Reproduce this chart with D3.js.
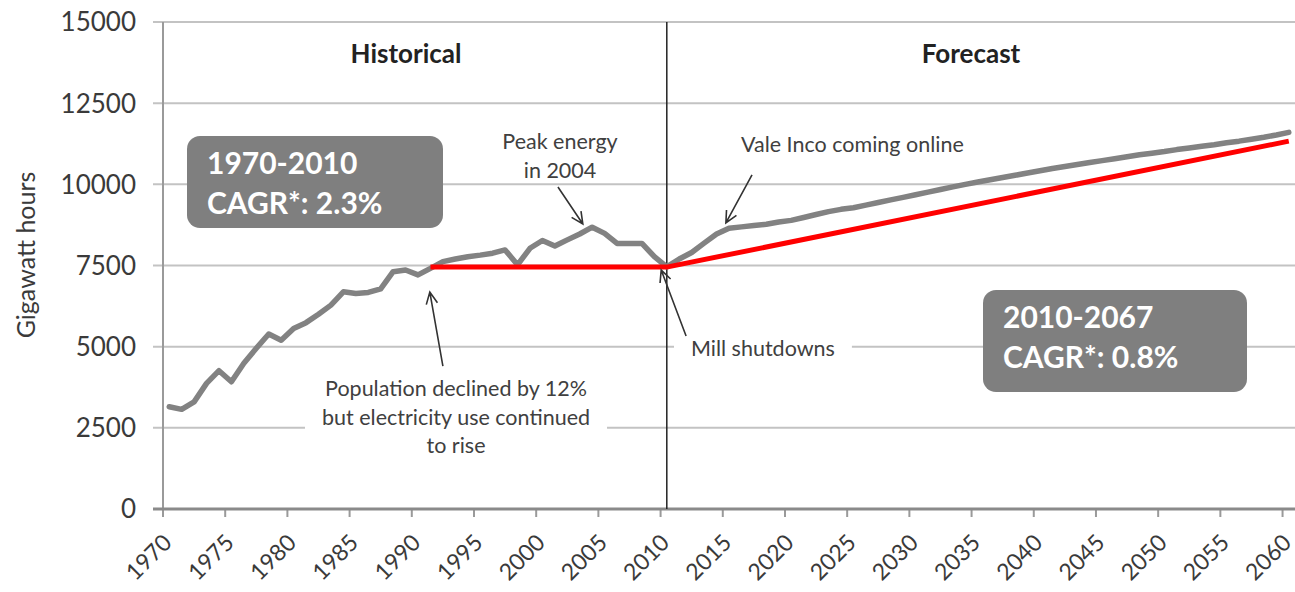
<!DOCTYPE html>
<html>
<head>
<meta charset="utf-8">
<script src="https://cdn.jsdelivr.net/npm/d3@7/dist/d3.min.js"></script>
<style>
  body { margin: 0; background: #fff; }
  svg { display: block; font-family: Lato, "Open Sans", sans-serif; }
</style>
</head>
<body>
<svg id="chart" width="1295" height="592"></svg>
<script>
// categories: one per year, 1970 - 2060
var years = d3.range(1970, 2061);
// gigawatt hours, 1970 - 2010
var historical = [3150, 3070, 3300, 3870, 4260, 3920, 4490, 4950, 5390, 5200,
                  5560, 5740, 6000, 6280, 6690, 6640, 6670, 6780, 7310, 7360,
                  7210, 7410, 7620, 7700, 7770, 7820, 7880, 7980, 7520, 8030,
                  8270, 8100, 8290, 8470, 8680, 8490, 8180, 8180, 8180, 7770,
                  7460];
// gigawatt hours, 2011 - 2060
var forecast = [7700, 7900, 8190, 8470, 8650, 8690, 8730, 8770, 8840, 8890,
                8980, 9070, 9160, 9230, 9280, 9360, 9440, 9520, 9600, 9680,
                9760, 9840, 9920, 10000, 10070, 10140, 10210, 10280, 10350, 10420,
                10490, 10550, 10610, 10670, 10730, 10790, 10850, 10910, 10960, 11010,
                11070, 11120, 11170, 11220, 11280, 11330, 11390, 11450, 11520, 11600];
// red CAGR reference line
var cagrYears = [1991, 2010, 2060];
var cagrValues = [7450, 7450, 11330];
var yTicks = [0, 2500, 5000, 7500, 10000, 12500, 15000];
var xTickYears = d3.range(1970, 2061, 5);

var energy = years.map(function (yr, i) {
  return { year: yr, value: i < historical.length ? historical[i] : forecast[i - historical.length] };
});
var cagr = cagrYears.map(function (yr, i) { return { year: yr, value: cagrValues[i] }; });

var plotLeft = 163, plotRight = 1295, plotTop = 22, plotBottom = 509;
var svg = d3.select("#chart");

var x = d3.scaleBand().domain(years).range([plotLeft, plotRight]);
var xc = function (yr) { return x(yr) + x.bandwidth() / 2; };
// continuous year position, used for the annotation arrows
var xf = d3.scaleLinear().domain([1970, 2061]).range([plotLeft, plotRight]);
var y = d3.scaleLinear().domain([0, 15000]).range([plotBottom, plotTop]);

// gridlines
svg.append("g").selectAll("line")
  .data(yTicks.filter(function (v) { return v > 0; }))
  .join("line")
  .attr("x1", plotLeft - 10).attr("x2", plotRight)
  .attr("y1", function (d) { return y(d); }).attr("y2", function (d) { return y(d); })
  .attr("stroke", "#c3c3c3").attr("stroke-width", 2);

// y axis line
svg.append("line")
  .attr("x1", plotLeft).attr("x2", plotLeft).attr("y1", y(15000)).attr("y2", y(0))
  .attr("stroke", "#9a9a9a").attr("stroke-width", 2);

// y tick labels
svg.append("g").selectAll("text")
  .data(yTicks)
  .join("text")
  .attr("x", 136).attr("y", function (d) { return y(d); })
  .attr("dy", "0.36em")
  .attr("text-anchor", "end")
  .style("font-size", "26px").style("fill", "#3a3a3a")
  .text(function (d) { return d; });

svg.append("text")
  .attr("transform", "translate(35,255) rotate(-90)")
  .attr("text-anchor", "middle")
  .style("font-size", "25px").style("fill", "#3a3a3a")
  .text("Gigawatt hours");

// x axis
svg.append("g").selectAll("line")
  .data(xTickYears)
  .join("line")
  .attr("x1", function (d) { return x(d); }).attr("x2", function (d) { return x(d); })
  .attr("y1", plotBottom).attr("y2", plotBottom + 8)
  .attr("stroke", "#9a9a9a").attr("stroke-width", 2);

svg.append("line")
  .attr("x1", plotLeft - 10).attr("x2", plotRight).attr("y1", y(0)).attr("y2", y(0))
  .attr("stroke", "#8a8a8a").attr("stroke-width", 3);

svg.append("g").selectAll("text")
  .data(xTickYears)
  .join("text")
  .attr("transform", function (d) { return "translate(" + (xc(d) + 4) + "," + 544 + ") rotate(-45)"; })
  .attr("text-anchor", "end")
  .style("font-size", "23px").style("fill", "#3a3a3a")
  .text(function (d) { return d; });

// divider between historical and forecast
svg.append("line")
  .attr("x1", xc(2010)).attr("x2", xc(2010)).attr("y1", y(15000)).attr("y2", y(0))
  .attr("stroke", "#222").attr("stroke-width", 1.5);

svg.append("text").attr("x", 406).attr("y", 63).attr("text-anchor", "middle")
  .style("font-size", "26px").style("font-weight", "bold").style("fill", "#222")
  .text("Historical");
svg.append("text").attr("x", 971).attr("y", 63).attr("text-anchor", "middle")
  .style("font-size", "26px").style("font-weight", "bold").style("fill", "#222")
  .text("Forecast");

// CAGR boxes
function cagrBox(bx, by, bw, bh, lines) {
  svg.append("rect").attr("x", bx).attr("y", by).attr("width", bw).attr("height", bh)
    .attr("rx", 13).attr("fill", "#7f7f7f");
  lines.forEach(function (t, i) {
    svg.append("text").attr("x", bx + 20).attr("y", by + 38 + i * 40)
      .style("font-size", "30px").style("font-weight", "bold").style("fill", "#fff")
      .text(t);
  });
}
cagrBox(187, 136, 256, 92, ["1970-2010", "CAGR*: 2.3%"]);
cagrBox(983, 290, 264, 102, ["2010-2067", "CAGR*: 0.8%"]);

// annotation text, some with white backing that breaks the gridlines
function note(cx, by, lines, anchor, backed) {
  var g = svg.append("g");
  var t = g.append("text").attr("text-anchor", anchor)
    .style("font-size", "21.5px").style("fill", "#404040");
  lines.forEach(function (s, i) {
    t.append("tspan").attr("x", cx).attr("y", by + i * 28.5).text(s);
  });
  if (backed) {
    var b = t.node().getBBox();
    g.insert("rect", "text")
      .attr("x", b.x - 17).attr("y", b.y - 3)
      .attr("width", b.width + 34).attr("height", b.height + 6)
      .attr("fill", "#fff");
  }
}
note(560, 149, ["Peak energy", "in 2004"], "middle", false);
note(741, 152, ["Vale Inco coming online"], "start", false);
note(691, 356, ["Mill shutdowns"], "start", true);
note(456, 396, ["Population declined by 12%", "but electricity use continued", "to rise"], "middle", true);

// lines
var line = d3.line()
  .x(function (d) { return xc(d.year); })
  .y(function (d) { return y(d.value); });

svg.append("path").datum(energy)
  .attr("d", line)
  .attr("fill", "none").attr("stroke", "#828282").attr("stroke-width", 5.5)
  .attr("stroke-linejoin", "round").attr("stroke-linecap", "round");

svg.append("path").datum(cagr)
  .attr("d", line)
  .attr("fill", "none").attr("stroke", "#ff0000").attr("stroke-width", 5);

// arrows: [tail year, tail value, head year, head value]
var arrows = [
  [2001.75, 9920, 2003.75, 8780],
  [2017.35, 10290, 2015.25, 8810],
  [2012.05, 5330, 2010.05, 7360],
  [1992.5, 4400, 1991.45, 6680]
];
arrows.forEach(function (a) {
  var x1 = xf(a[0]), y1 = y(a[1]), x2 = xf(a[2]), y2 = y(a[3]);
  var ang = Math.atan2(y2 - y1, x2 - x1), len = 13, spread = 0.45;
  var p = "M" + x1 + "," + y1 + "L" + x2 + "," + y2 +
    "M" + (x2 - len * Math.cos(ang - spread)) + "," + (y2 - len * Math.sin(ang - spread)) +
    "L" + x2 + "," + y2 +
    "L" + (x2 - len * Math.cos(ang + spread)) + "," + (y2 - len * Math.sin(ang + spread));
  svg.append("path").attr("d", p)
    .attr("fill", "none").attr("stroke", "#333").attr("stroke-width", 1.6);
});
</script>
</body>
</html>
